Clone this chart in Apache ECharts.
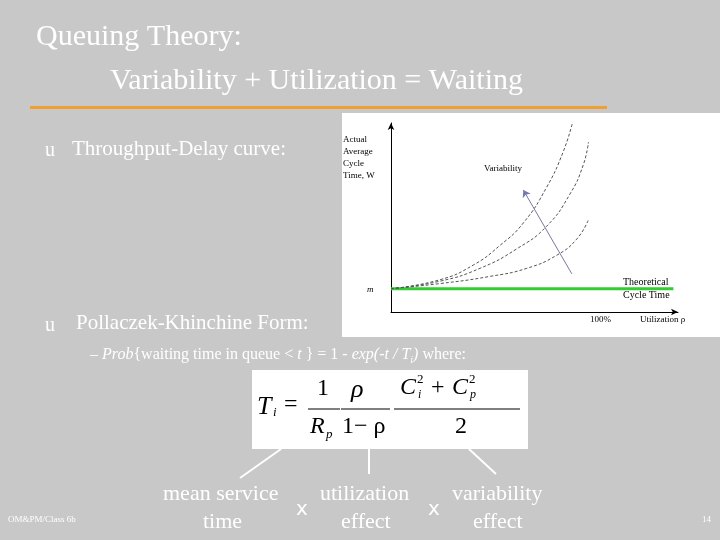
<!DOCTYPE html><html><head><meta charset="utf-8"><script src="https://cdn.jsdelivr.net/npm/echarts@6/dist/echarts.min.js"></script></head><body style="margin:0"><div id="c" style="width:720px;height:540px"></div><script>
const curveHigh=[[0,12.7],[17.1,17.6],[28.7,25.6],[37.9,36.2],[46.1,48.5],[54.2,67.9],[60,87.3],[63.2,103]];
const curveMid=[[0,12.7],[17.1,16.8],[31,23.8],[43.8,34.4],[54.2,46.7],[62.4,64.4],[67,80.2],[68.8,92.6]];
const curveLow=[[0,12.7],[17.1,15.5],[34.5,19.4],[47.3,23.8],[57.7,30.9],[64.7,39.7],[68.8,50.3]];
const theoretical=[[0,12.7],[98.4,12.7]];
const arrowPts=[[63,20.8],[46.1,66.5]];
const S='"Liberation Serif","DejaVu Serif",serif';
const W='#ffffff';
const ch=echarts.init(document.getElementById('c'));
const dash={type:'line',showSymbol:false,smooth:true,lineStyle:{color:'#555',width:1,type:[3,2]},z:3};
function t(x,y,s,sz,extra){return Object.assign({type:'text',x:x,y:y,style:{text:s,fill:W,font:sz+'px '+S}},extra||{});}
const mc=document.createElement('canvas').getContext('2d');
function seq(x,y,segs){const out=[];segs.forEach(([s,f,dy])=>{out.push({type:'text',x:x,y:y+(dy||0),style:{text:s,fill:W,font:f}});mc.font=f;x+=mc.measureText(s).width;});return out;}
const N='16px '+S, I='italic 16px '+S;
const probLine=seq(90,347,[['– ',N],['Prob',I],['{waiting time in queue < ',N],['t',I],[' } = 1 - ',N],['exp(-t / T',I],['i',"italic 10px "+S,8],[')',I],[' where:',N]]);
const B='#000';
ch.setOption({backgroundColor:'#c8c8c8',animation:false,
grid:{left:391,top:123,width:287,height:189},
xAxis:{type:'value',min:0,max:100,axisLine:{lineStyle:{color:'#000'},symbol:['none','arrow'],symbolSize:[5,7]},axisTick:{show:false},axisLabel:{show:false},splitLine:{show:false}},
yAxis:{type:'value',min:0,max:103,axisLine:{lineStyle:{color:'#000'},symbol:['none','arrow'],symbolSize:[5,7]},axisTick:{show:false},axisLabel:{show:false},splitLine:{show:false}},
series:[
Object.assign({data:curveHigh},dash),Object.assign({data:curveMid},dash),Object.assign({data:curveLow},dash),
{type:'line',data:theoretical,showSymbol:false,lineStyle:{color:'#33cc33',width:3},z:2,
 markLine:{silent:true,symbol:['none','arrow'],symbolSize:7,label:{show:false},lineStyle:{color:'#7777aa',width:1,type:'solid'},itemStyle:{color:'#222288'},
 data:[[{coord:arrowPts[0]},{coord:arrowPts[1]}]]}}
],
graphic:[
{type:'rect',z:-10,shape:{x:342,y:113,width:378,height:224},style:{fill:'#fff'}},
{type:'rect',z:-10,shape:{x:30,y:106,width:577,height:3},style:{fill:'#f0a030'}},
{type:'rect',z:-10,shape:{x:252,y:370,width:276,height:79},style:{fill:'#fff'}},
t(36,22,'Queuing Theory:',30),
t(110,66,'Variability + Utilization = Waiting',30),
t(45,141,'u',20),t(72,139,'Throughput-Delay curve:',21),
t(45,316,'u',20),t(76,313,'Pollaczek-Khinchine Form:',21),
...probLine,
{type:'text',x:257,y:394,style:{text:'T',fill:B,font:'italic 26px '+S}},
{type:'text',x:273,y:406,style:{text:'i',fill:B,font:'italic 13px '+S}},
{type:'text',x:284,y:393,style:{text:'=',fill:B,font:'24px '+S}},
{type:'text',x:317,y:377,style:{text:'1',fill:B,font:'24px '+S}},
{type:'text',x:310,y:415,style:{text:'R',fill:B,font:'italic 24px '+S}},
{type:'text',x:326,y:428,style:{text:'p',fill:B,font:'italic 13px '+S}},
{type:'line',shape:{x1:308,y1:409,x2:340,y2:409},style:{stroke:B,lineWidth:1}},
{type:'text',x:351,y:377,style:{text:'ρ',fill:B,font:'italic 26px '+S}},
{type:'text',x:342,y:415,style:{text:'1− ρ',fill:B,font:'24px '+S}},
{type:'line',shape:{x1:341,y1:409,x2:390,y2:409},style:{stroke:B,lineWidth:1}},
{type:'text',x:400,y:376,style:{text:'C',fill:B,font:'italic 24px '+S}},
{type:'text',x:417,y:373,style:{text:'2',fill:B,font:'13px '+S}},
{type:'text',x:418,y:389,style:{text:'i',fill:B,font:'italic 12px '+S}},
{type:'text',x:431,y:376,style:{text:'+',fill:B,font:'24px '+S}},
{type:'text',x:452,y:376,style:{text:'C',fill:B,font:'italic 24px '+S}},
{type:'text',x:469,y:373,style:{text:'2',fill:B,font:'13px '+S}},
{type:'text',x:470,y:389,style:{text:'p',fill:B,font:'italic 12px '+S}},
{type:'text',x:455,y:415,style:{text:'2',fill:B,font:'24px '+S}},
{type:'line',shape:{x1:394,y1:409,x2:520,y2:409},style:{stroke:B,lineWidth:1}},
{type:'line',shape:{x1:281,y1:449,x2:240,y2:478},style:{stroke:W,lineWidth:2}},
{type:'line',shape:{x1:369,y1:449,x2:369,y2:474},style:{stroke:W,lineWidth:2}},
{type:'line',shape:{x1:469,y1:449,x2:496,y2:474},style:{stroke:W,lineWidth:2}},
t(163,483,'mean service',22),t(203,511,'time',22),
t(320,483,'utilization',22),t(341,511,'effect',22),
t(452,483,'variability',22),t(473,511,'effect',22),
{type:'text',x:296,y:500,style:{text:'x',fill:W,font:'20px "DejaVu Sans",sans-serif'}},
{type:'text',x:428,y:500,style:{text:'x',fill:W,font:'20px "DejaVu Sans",sans-serif'}},
t(8,515,'OM&PM/Class 6b',9),t(702,515,'14',9),
{type:'text',x:343,y:134,style:{text:'Actual\nAverage\nCycle\nTime, W',fill:B,font:'9px '+S,lineHeight:12}},
{type:'text',x:484,y:164,style:{text:'Variability',fill:B,font:'9px '+S}},
{type:'text',x:367,y:285,style:{text:'m',fill:B,font:'italic 9px '+S}},
{type:'text',x:623,y:276,style:{text:'Theoretical\nCycle Time',fill:B,font:'10px '+S,lineHeight:13}},
{type:'text',x:590,y:315,style:{text:'100%',fill:B,font:'9px '+S}},
{type:'text',x:640,y:315,style:{text:'Utilization ρ',fill:B,font:'9px '+S}}
]});
</script></body></html>
